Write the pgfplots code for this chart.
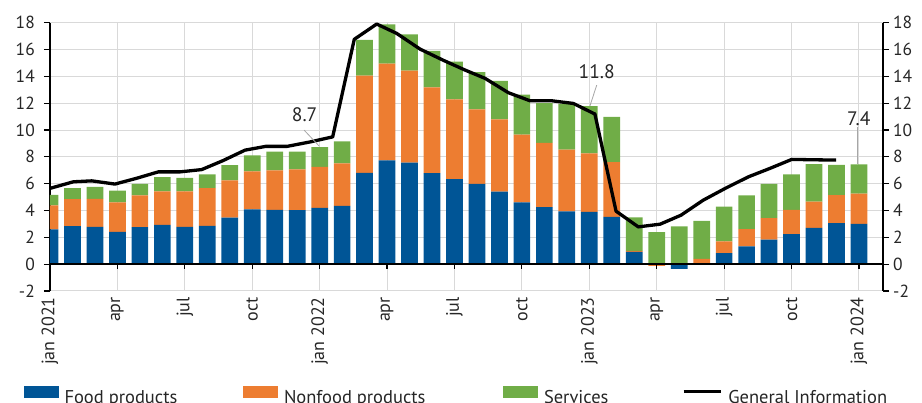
\documentclass[border=0pt]{standalone}
\usepackage{pgfplots}
\usepackage{pgfplotstable}
\pgfplotsset{compat=1.18}
\usepackage{fontspec}
\setmainfont{PT Sans}
\definecolor{cfood}{RGB}{0,85,150}
\definecolor{cnon}{RGB}{237,125,49}
\definecolor{cserv}{RGB}{112,173,71}
\definecolor{cgrid}{RGB}{217,217,217}
\definecolor{ctext}{RGB}{38,38,38}

% positive parts of the components (stacked)
\pgfplotstableread{
x food nonfood serv
0 2.59 1.79 0.79
1 2.83 2.02 0.82
2 2.78 2.09 0.90
3 2.41 2.19 0.89
4 2.76 2.36 0.87
5 2.93 2.49 1.07
6 2.78 2.64 1.02
7 2.86 2.81 1.02
8 3.46 2.78 1.14
9 4.08 2.83 1.20
10 4.05 2.94 1.39
11 4.03 3.03 1.32
12 4.20 3.06 1.47
13 4.35 3.16 1.64
14 6.81 7.24 2.66
15 7.73 7.21 2.94
16 7.56 6.86 2.71
17 6.79 6.39 2.71
18 6.34 5.94 2.81
19 5.99 5.55 2.78
20 5.40 5.39 2.88
21 4.60 5.05 2.98
22 4.25 4.80 2.95
23 3.93 4.60 3.42
24 3.90 4.35 3.53
25 3.53 4.08 3.37
26 0.92 0.07 2.49
27 0.00 0.00 2.39
28 0.00 0.00 2.81
29 0.00 0.40 2.83
30 0.82 0.87 2.59
31 1.32 1.29 2.51
32 1.82 1.61 2.56
33 2.24 1.81 2.64
34 2.71 1.96 2.79
35 3.06 2.09 2.26
36 3.01 2.24 2.18
}\bars

% negative parts
\pgfplotstableread{
x food nonfood
27 0.00 -0.12
28 -0.35 0.00
}\negbars

% General Information line
\pgfplotstableread{
x y
0.00 5.65
1.04 6.14
1.86 6.21
2.89 5.97
3.85 6.40
4.82 6.88
5.79 6.88
6.75 7.05
7.70 7.72
8.68 8.50
9.60 8.78
10.55 8.78
11.60 9.12
12.58 9.49
13.54 16.76
14.54 17.90
15.43 17.20
16.47 16.03
17.50 15.20
18.47 14.47
19.36 13.85
20.40 12.78
21.36 12.18
22.33 12.18
23.29 11.98
24.25 11.19
25.19 3.95
26.18 2.78
27.15 2.98
28.08 3.65
29.07 4.77
30.04 5.64
31.08 6.51
32.04 7.14
33.01 7.81
34.00 7.78
34.98 7.76
}\gen

\pgfplotsset{base/.style={
  scale only axis, width=833pt, height=268.3pt,
  xmin=0, xmax=37.07, ymin=-2, ymax=18,
  at={(50pt,112pt)}, anchor=south west,
  ytick={-2,0,...,18},
  /pgf/number format/assume math mode=true,
  tick label style={font=\fontsize{17.5}{17.5}\selectfont, text=ctext},
  major tick length=6pt,
}}

\begin{document}
\begin{tikzpicture}
\path[use as bounding box] (0pt,0pt) rectangle (922pt,403pt);
\begin{axis}[base,
  ybar stacked, bar width=16.7pt,
  axis y line*=left, axis x line*=bottom,
  x axis line style={draw=none},
  y axis line style={black, line width=1.8pt},
  tick align=outside,
  xtick={0,3,...,36},
  xticklabels={jan 2021,apr,jul,oct,jan 2022,apr,jul,oct,jan 2023,apr,jul,oct,jan 2024},
  xtick style={draw=none},
  ytick style={black, line width=1.2pt},
  xticklabel style={rotate=90, anchor=east, inner sep=0pt, font=\fontsize{18}{18}\selectfont},
  yticklabel style={anchor=east, inner sep=0pt, xshift=-9pt},
  xmajorgrids, ymajorgrids,
  major grid style={cgrid, line width=1pt},
  legend columns=4,
  legend style={at={(axis description cs:-0.0318,-0.3541)}, anchor=north west,
    draw=none, fill=none, inner sep=0pt, outer sep=0pt,
    column sep=0pt, row sep=0pt,
    nodes={inner sep=0pt, outer sep=0pt},
    font=\fontsize{18.5}{18.5}\selectfont, text=ctext},
]
\addplot[fill=cfood, draw=none,
  legend image code/.code={\fill[cfood] (0pt,-0.7pt) rectangle (35pt,11.3pt);}]
  table[x=x, y=food]{\bars};
\addlegendentry{\hspace*{6pt}\makebox[178.5pt][l]{Food products}}
\addplot[fill=cnon, draw=none,
  legend image code/.code={\fill[cnon] (0pt,-0.7pt) rectangle (35pt,11.3pt);}]
  table[x=x, y=nonfood]{\bars};
\addlegendentry{\hspace*{6pt}\makebox[219pt][l]{Nonfood products}}
\addplot[fill=cserv, draw=none,
  legend image code/.code={\fill[cserv] (0pt,-0.7pt) rectangle (35pt,11.3pt);}]
  table[x=x, y=serv]{\bars};
\addlegendentry{\hspace*{6pt}\makebox[138pt][l]{Services}}
\addlegendimage{legend image code/.code={\draw[black, line width=3.3pt] (0pt,5.5pt) -- (37pt,5.5pt);}}
\addlegendentry{\hspace*{6pt}General Information}
\end{axis}

\begin{axis}[base,
  ybar, bar width=16.7pt, bar shift=0pt,
  axis y line*=right, axis x line=none,
  y axis line style={black, line width=1.8pt},
  tick align=outside,
  ytick style={black, line width=1.2pt},
  yticklabel style={anchor=west, inner sep=0pt, xshift=4pt},
]
\addplot[fill=cfood, draw=none] table[x=x, y=food]{\negbars};
\addplot[fill=cnon, draw=none] table[x=x, y=nonfood]{\negbars};
\draw[black, line width=2pt] (axis cs:0,0) -- (axis cs:37.07,0);
\pgfplotsinvokeforeach{0,3,6,9,12,15,18,21,24,27,30,33,36}{
  \draw[black, line width=1.2pt] (axis cs:#1,0) -- ++(0pt,-5pt);}
\addplot[sharp plot, black, line width=3.3pt, line join=round, mark=none] table[x=x, y=y]{\gen};
\draw[gray!70, line width=0.8pt] (axis cs:11.31,9.99) -- (axis cs:11.98,8.80);
\draw[gray!70, line width=0.8pt] (axis cs:24.33,13.35) -- (axis cs:24.03,11.80);
\draw[gray!70, line width=0.8pt] (axis cs:35.95,10.24) -- (axis cs:35.95,7.46);
\node[font=\fontsize{19.5}{19.5}\selectfont, text=ctext] at (axis cs:11.33,11.11) {8.7};
\node[font=\fontsize{19.5}{19.5}\selectfont, text=ctext] at (axis cs:24.33,14.34) {11.8};
\node[font=\fontsize{19.5}{19.5}\selectfont, text=ctext] at (axis cs:35.99,10.87) {7.4};
\end{axis}
\end{tikzpicture}
\end{document}
